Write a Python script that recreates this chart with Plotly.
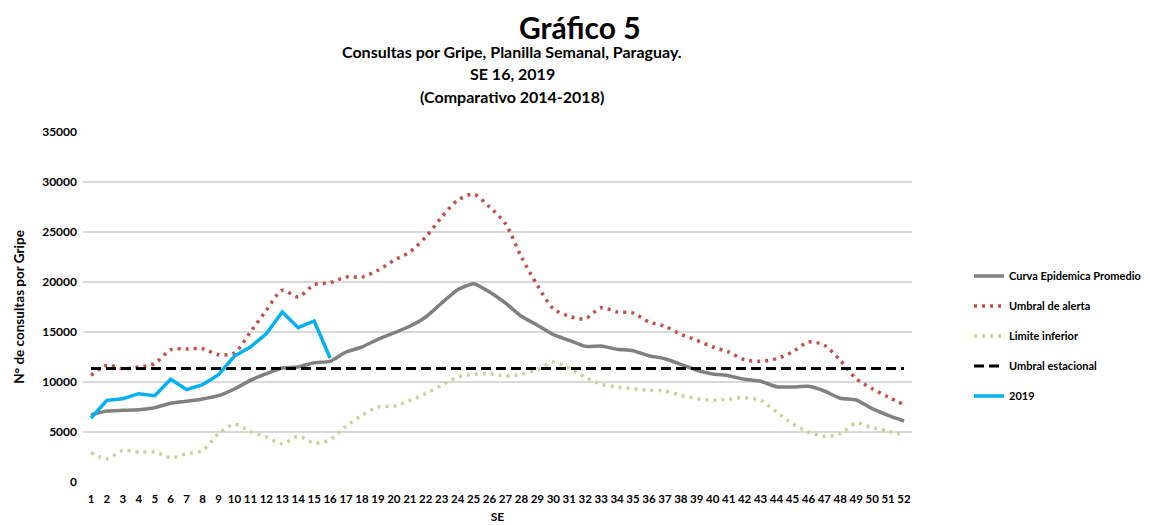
import plotly.graph_objects as go

weeks = list(range(1, 53))

curva_promedio = [6730, 7100, 7170, 7230, 7430, 7870, 8070, 8300, 8630, 9300,
                  10170, 10830, 11400, 11500, 11930, 12070, 13000, 13500, 14270, 14900,
                  15570, 16500, 17900, 19230, 19830, 19000, 17900, 16570, 15670, 14730,
                  14170, 13570, 13600, 13270, 13130, 12630, 12330, 11770, 11170, 10800,
                  10630, 10270, 10070, 9530, 9500, 9570, 9100, 8370, 8200, 7330,
                  6670, 6100]

umbral_alerta = [10670, 11670, 11330, 11500, 11830, 13230, 13300, 13330, 12730, 12900,
                 15000, 17170, 19170, 18500, 19730, 19930, 20500, 20500, 21170, 22170,
                 23000, 24500, 26500, 28170, 28770, 27500, 25830, 22500, 19670, 17330,
                 16570, 16330, 17430, 17000, 16900, 16000, 15570, 14770, 14170, 13500,
                 13000, 12230, 12070, 12330, 13000, 14000, 13670, 12170, 10330, 9330,
                 8500, 7730]

limite_inferior = [2930, 2330, 3170, 3000, 3000, 2430, 2830, 3170, 4830, 5770,
                   5070, 4500, 3830, 4570, 3900, 4230, 5570, 6670, 7500, 7570,
                   8170, 8830, 9670, 10500, 10770, 10830, 10600, 10770, 11230, 12000,
                   11330, 10500, 9770, 9500, 9330, 9170, 9100, 8670, 8330, 8170,
                   8300, 8430, 8170, 7000, 5830, 5000, 4570, 4830, 5900, 5430,
                   5100, 4670]

umbral_estacional_value = 11350
umbral_estacional = [umbral_estacional_value] * len(weeks)

weeks_2019 = list(range(1, 17))
serie_2019 = [6400, 8170, 8330, 8830, 8630, 10270, 9230, 9730, 10730, 12600,
              13500, 14830, 17000, 15430, 16100, 12400]

y_ticks = [0, 5000, 10000, 15000, 20000, 25000, 30000, 35000]
y_ticktext = [str(v) for v in y_ticks]

FONT = "Lato, 'Open Sans', sans-serif"
W, H = 1151, 525
OFF = 8  # page body margin
ML, MT = 83 - OFF, 132 - OFF
PW, PH = 829, 350
MR, MB = W - ML - PW, H - MT - PH


def px_to_paper(px, py):
    # px, py are page pixel coordinates
    return (px - OFF - ML) / PW, (MT + PH - (py - OFF)) / PH


fig = go.Figure()
fig.add_trace(go.Scatter(x=weeks, y=curva_promedio, mode="lines", name="Curva Epidemica Promedio",
                         line=dict(color="#808080", width=3.5, shape="spline", smoothing=0.5),
                         legendgroup="a"))
fig.add_trace(go.Scatter(x=weeks, y=umbral_alerta, mode="lines", name="Umbral de alerta",
                         line=dict(color="#c0504d", width=3.5, dash="3px,5px", shape="spline", smoothing=0.8),
                         legendgroup="b"))
fig.add_trace(go.Scatter(x=weeks, y=limite_inferior, mode="lines", name="Limite inferior",
                         line=dict(color="#c3d69b", width=3.5, dash="3px,5px", shape="spline", smoothing=0.8),
                         legendgroup="c"))
fig.add_trace(go.Scatter(x=weeks, y=umbral_estacional, mode="lines", name="Umbral estacional",
                         line=dict(color="#000000", width=3, dash="10px,5px"),
                         legendgroup="d"))
fig.add_trace(go.Scatter(x=weeks_2019, y=serie_2019, mode="lines", name="2019",
                         line=dict(color="#00b0f0", width=3.5),
                         legendgroup="e"))

annots = []
for text, px, py, size in [
    ("Gráfico 5", 580, 27, 30),
    ("Consultas por Gripe, Planilla Semanal, Paraguay.", 512, 52, 16),
    ("SE 16, 2019", 512, 73, 16),
    ("(Comparativo 2014-2018)", 512, 96, 16),
]:
    ax, ay = px_to_paper(px, py)
    annots.append(dict(text=text, x=ax, y=ay, xref="paper", yref="paper", showarrow=False,
                       font=dict(size=size, family=FONT, weight="bold", color="#000000"),
                       xanchor="center", yanchor="middle"))

lx, ly = px_to_paper(969, 336)

fig.update_layout(
    width=W, height=H,
    margin=dict(l=ML, r=MR, t=MT, b=MB, autoexpand=False),
    paper_bgcolor="white", plot_bgcolor="white",
    font=dict(family=FONT, color="#000000"),
    showlegend=True,
    legend=dict(x=lx, xanchor="left", y=ly, yanchor="middle",
                font=dict(size=11, family=FONT, color="#000000", weight="bold"),
                traceorder="grouped", tracegroupgap=11,
                bgcolor="rgba(0,0,0,0)"),
    xaxis=dict(range=[0.5, 52.5], tickmode="array", tickvals=weeks, tickangle=0,
               tickfont=dict(size=11.5, family=FONT, color="#000000", weight="bold"),
               showgrid=False, zeroline=False, showline=False, ticks="", automargin=False,
               ticklabelstandoff=8,
               title=dict(text="SE", font=dict(size=12, family=FONT, weight="bold"), standoff=9)),
    yaxis=dict(range=[0, 35000], tickmode="array", tickvals=y_ticks, ticktext=y_ticktext,
               tickfont=dict(size=12, family=FONT, color="#000000", weight="bold"),
               showgrid=True, gridcolor="#d9d9d9", gridwidth=1.5, automargin=False,
               zeroline=False, showline=False, ticks="", ticklabelstandoff=5,
               title=dict(text="N° de consultas por Gripe", font=dict(size=13.5, family=FONT, weight="bold"),
                          standoff=14)),
    annotations=annots,
)

fig.write_html("out.html")
